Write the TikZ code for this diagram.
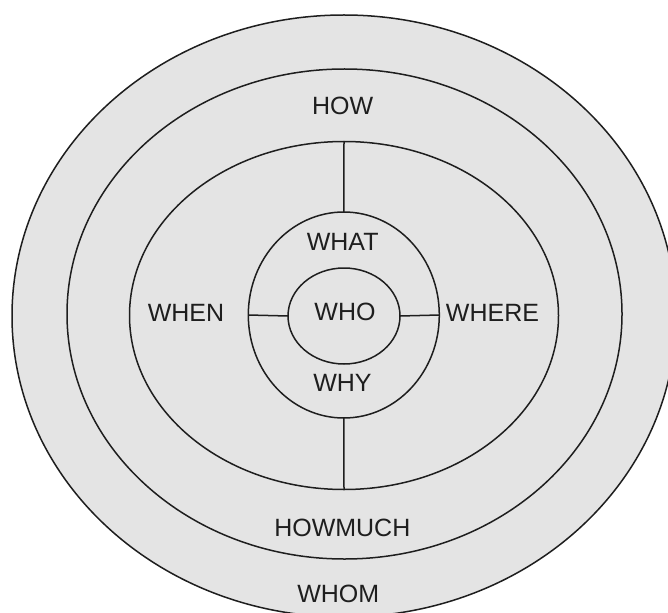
\documentclass[tikz,border=0pt]{standalone}
\usepackage{fontspec}
\setmainfont{Liberation Sans}
\usetikzlibrary{shapes.geometric}
\definecolor{ringfill}{HTML}{E4E4E4}
\definecolor{inkcol}{HTML}{1E1E1E}
\tikzset{
  ring/.style={ellipse, draw=inkcol, line width=1.5pt, fill=ringfill, inner sep=0pt, outer sep=0pt},
  divider/.style={draw=inkcol, line width=1.5pt},
  lbl/.style={font=\fontsize{25}{30}\selectfont, text=inkcol, anchor=base, inner sep=0pt}
}
\begin{document}
\begin{tikzpicture}[x=1pt,y=-1pt]
\useasboundingbox (0,0) rectangle (668,612);
\fill[white] (0,0) rectangle (668,612);
\clip (0,0) rectangle (668,612);
\node[ring, minimum width=664pt, minimum height=602pt] (outer) at (344,316) {};
\node[ring, minimum width=555pt, minimum height=490pt] (ringtwo) at (344.5,314) {};
\node[ring, minimum width=429pt, minimum height=348pt] (ringthree) at (344,315.5) {};
\node[ring, minimum width=191pt, minimum height=206pt] (ringfour) at (343.8,315) {};
\node[ring, minimum width=112pt, minimum height=96pt] (core) at (344,316) {};
\draw[divider] (ringthree.north) -- (ringfour.north);
\draw[divider] (ringfour.south) -- (ringthree.south);
\draw[divider] (ringfour.west) -- (core.west);
\draw[divider] (core.east) -- (ringfour.east);
\node[lbl] (how) at (342.7,115) {HOW};
\node[lbl] (what) at (342.7,250.7) {WHAT};
\node[lbl] (who) at (345,320.7) {WHO};
\node[lbl] (why) at (342.5,391.7) {WHY};
\node[lbl] (when) at (186,321.7) {WHEN};
\node[lbl] (where) at (492.5,321.7) {WHERE};
\node[lbl] (howmuch) at (342.3,536) {HOWMUCH};
\node[lbl] (whom) at (338.3,602) {WHOM};
\end{tikzpicture}
\end{document}
